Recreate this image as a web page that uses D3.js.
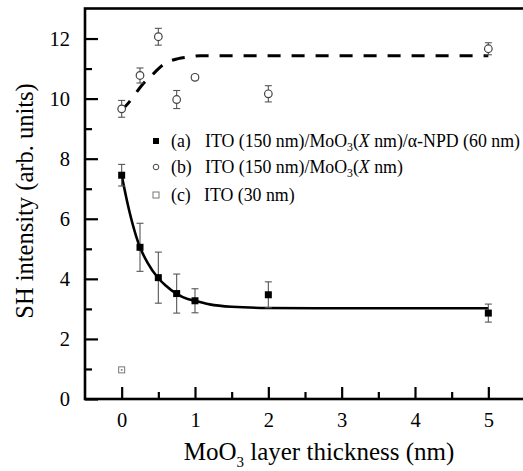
<!DOCTYPE html>
<meta charset="utf-8">
<script src="https://d3js.org/d3.v7.min.js"></script>
<style>
  body { margin: 0; background: #fff; }
  svg text { font-family: "Liberation Serif", "DejaVu Serif", serif !important; }
</style>
<div id="chart"></div>
<script>
// thickness values (nm)
const thickness = [0, 0.25, 0.5, 0.75, 1, 2, 5];

// (a) ITO/MoO3/a-NPD
const seriesA = [7.45, 5.05, 4.04, 3.51, 3.27, 3.47, 2.86];
const errA    = [0.36, 0.80, 0.85, 0.65, 0.40, 0.43, 0.30];
// (b) ITO/MoO3
const seriesB = [9.66, 10.77, 12.06, 9.97, 10.71, 10.16, 11.66];
const errB    = [0.28, 0.25, 0.28, 0.30, 0.08, 0.27, 0.20];
// (c) ITO (30 nm)
const seriesC = [{x: 0, y: 0.97}];

// fitted curves
const fitAx = [0, 0.1, 0.2, 0.25, 0.35, 0.5, 0.6, 0.75, 0.9, 1, 1.2, 1.5, 2, 3, 5];
const fitAy = [7.45, 6.3, 5.4, 5.05, 4.55, 4.02, 3.78, 3.5, 3.33, 3.27, 3.15, 3.07, 3.03, 3.02, 3.02];
const fitBx = [0, 0.14, 0.27, 0.42, 0.59, 0.77, 0.92, 1.07, 1.5, 5];
const fitBy = [9.6, 10.0, 10.43, 10.8, 11.17, 11.33, 11.39, 11.43, 11.43, 11.43];

const xTicks = [0, 1, 2, 3, 4, 5];
const yTicks = [0, 2, 4, 6, 8, 10, 12];

const W = 523, H = 471;
const margin = {top: 8.5, right: -2, bottom: 72, left: 85};
const width = W - margin.left - margin.right,
      height = H - margin.top - margin.bottom;

const svg = d3.select("#chart").append("svg")
    .attr("width", W).attr("height", H)
    .attr("font-family", "Liberation Serif");
const g = svg.append("g")
    .attr("transform", `translate(${margin.left},${margin.top})`);

const x = d3.scaleLinear().domain([-0.5, 5.5]).range([0, width]);
const y = d3.scaleLinear().domain([0, 13]).range([height, 0]);

// major / minor ticks (inward)
const xAxis = g.append("g")
  .attr("transform", `translate(0,${height})`)
  .call(d3.axisBottom(x).tickValues(xTicks).tickFormat(d3.format("d"))
        .tickSizeInner(-12).tickSizeOuter(0).tickPadding(13));
xAxis.attr("font-family", null).attr("font-size", null);
xAxis.select(".domain").remove();
xAxis.selectAll("line").attr("stroke-width", 2.2);
xAxis.selectAll("text").attr("font-size", 20.5).attr("fill", "#000");
g.append("g").attr("transform", `translate(0,${height})`)
  .call(d3.axisBottom(x).tickValues(d3.range(0.5, 5.5, 1)).tickFormat("").tickSizeInner(-7).tickSizeOuter(0))
  .call(a => a.select(".domain").remove())
  .selectAll("line").attr("stroke-width", 2.2);

const yAxis = g.append("g")
  .call(d3.axisLeft(y).tickValues(yTicks).tickFormat(d3.format("d"))
        .tickSizeInner(-13).tickSizeOuter(0).tickPadding(15));
yAxis.attr("font-family", null).attr("font-size", null);
yAxis.select(".domain").remove();
yAxis.selectAll("line").attr("stroke-width", 2.2);
yAxis.selectAll("text").attr("font-size", 20.5).attr("fill", "#000");
g.append("g")
  .call(d3.axisLeft(y).tickValues(d3.range(1, 13, 2)).tickFormat("").tickSizeInner(-7).tickSizeOuter(0))
  .call(a => a.select(".domain").remove())
  .selectAll("line").attr("stroke-width", 2.2);

// frame
g.append("rect").attr("x", 0).attr("y", 0).attr("width", width).attr("height", height)
  .attr("fill", "none").attr("stroke", "#000").attr("stroke-width", 2.6);

// fit curves
const line = d3.line().x(d => x(d[0])).y(d => y(d[1])).curve(d3.curveMonotoneX);
g.append("path").datum(d3.zip(fitAx, fitAy)).attr("d", line)
  .attr("fill", "none").attr("stroke", "#000").attr("stroke-width", 2.6);
g.append("path").datum(d3.zip(fitBx, fitBy)).attr("d", line)
  .attr("fill", "none").attr("stroke", "#000").attr("stroke-width", 3)
  .attr("stroke-dasharray", "13,11");

// error bars
function errorBars(vals, errs, color) {
  const eb = g.append("g").attr("stroke", color).attr("stroke-width", 1.1);
  thickness.forEach((t, i) => {
    const cx = x(t), top = y(vals[i] + errs[i]), bot = y(vals[i] - errs[i]);
    eb.append("line").attr("x1", cx).attr("x2", cx).attr("y1", top).attr("y2", bot);
    eb.append("line").attr("x1", cx - 3.5).attr("x2", cx + 3.5).attr("y1", top).attr("y2", top);
    eb.append("line").attr("x1", cx - 3.5).attr("x2", cx + 3.5).attr("y1", bot).attr("y2", bot);
  });
}
errorBars(seriesA, errA, "#555");
errorBars(seriesB, errB, "#555");

// markers
g.selectAll(".ma").data(d3.zip(thickness, seriesA)).join("rect")
  .attr("x", d => x(d[0]) - 3.5).attr("y", d => y(d[1]) - 3.5)
  .attr("width", 7).attr("height", 7).attr("fill", "#000");
g.selectAll(".mb").data(d3.zip(thickness, seriesB)).join("circle")
  .attr("cx", d => x(d[0])).attr("cy", d => y(d[1])).attr("r", 3.8)
  .attr("fill", "#fff").attr("stroke", "#444").attr("stroke-width", 1.2);
seriesC.forEach(d => {
  g.append("rect").attr("x", x(d.x) - 3).attr("y", y(d.y) - 3).attr("width", 6).attr("height", 6)
    .attr("fill", "#fff").attr("stroke", "#777").attr("stroke-width", 1);
  g.append("rect").attr("x", x(d.x) - 0.8).attr("y", y(d.y) - 0.8).attr("width", 1.6).attr("height", 1.6)
    .attr("fill", "#777");
});

// legend
const leg = svg.append("g").attr("font-size", 18);
leg.append("rect").attr("x", 153).attr("y", 138).attr("width", 6).attr("height", 6).attr("fill", "#000");
leg.append("circle").attr("cx", 156).attr("cy", 167).attr("r", 2.8)
  .attr("fill", "#fff").attr("stroke", "#444").attr("stroke-width", 1);
leg.append("rect").attr("x", 153).attr("y", 192).attr("width", 6).attr("height", 6)
  .attr("fill", "#fff").attr("stroke", "#777").attr("stroke-width", 1);

const ta = leg.append("text").attr("y", 147);
ta.append("tspan").attr("x", 171).text("(a)");
ta.append("tspan").attr("x", 205).text("ITO (150 nm)/MoO");
ta.append("tspan").attr("font-size", "0.66em").attr("dy", 4).text("3");
ta.append("tspan").attr("dy", -4).text("(");
ta.append("tspan").attr("font-style", "italic").text("X");
ta.append("tspan").text(" nm)/\u03b1-NPD (60 nm)");

const tb = leg.append("text").attr("y", 173);
tb.append("tspan").attr("x", 171).text("(b)");
tb.append("tspan").attr("x", 205).text("ITO (150 nm)/MoO");
tb.append("tspan").attr("font-size", "0.66em").attr("dy", 4).text("3");
tb.append("tspan").attr("dy", -4).text("(");
tb.append("tspan").attr("font-style", "italic").text("X");
tb.append("tspan").text(" nm)");

const tc = leg.append("text").attr("y", 201);
tc.append("tspan").attr("x", 171).text("(c)");
tc.append("tspan").attr("x", 204).text("ITO (30 nm)");

// fit legend size so line (a) ends where the reference's does
const right = ta.node().getBBox();
const endX = right.x + right.width;
const fs = 18 * (520 - 205) / (endX - 205);
leg.attr("font-size", fs);

// axis titles
const xl = svg.append("text").attr("x", 319).attr("y", 460).attr("text-anchor", "middle")
  .attr("font-size", 25);
xl.append("tspan").text("MoO");
xl.append("tspan").attr("font-size", 15).attr("dy", 7).text("3");
xl.append("tspan").attr("dy", -7).text(" layer thickness (nm)");

svg.append("text").attr("transform", "translate(33,201) rotate(-90)")
  .attr("text-anchor", "middle").attr("font-size", 24.5)
  .text("SH intensity (arb. units)");
</script>
